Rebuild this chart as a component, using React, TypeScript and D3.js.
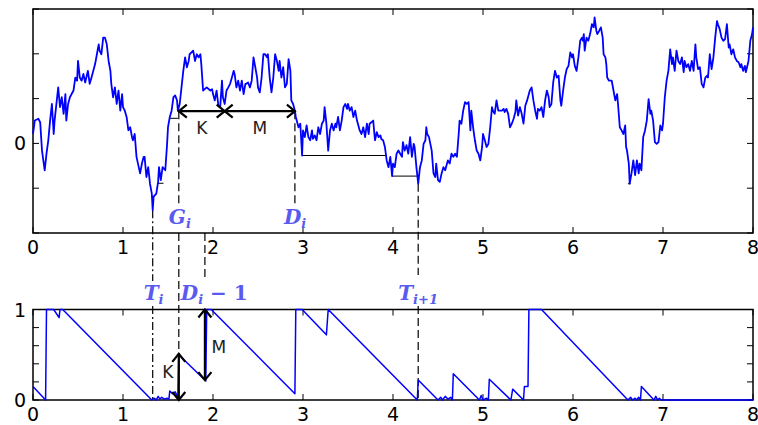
import React from 'react';
import * as d3 from 'd3';

// Brownian path: [time, value]
const walk: [number, number][] = [
  [0.00,0.21],[0.02,0.51],[0.06,0.55],[0.08,0.47],[0.10,-0.16],[0.13,-0.60],[0.15,-0.23],[0.17,0.07],[0.19,0.51],[0.21,0.88],
  [0.23,0.21],[0.24,0.51],[0.28,1.25],[0.30,0.81],[0.32,1.03],[0.34,0.66],[0.36,1.10],[0.37,0.51],[0.39,0.88],[0.41,1.03],
  [0.45,1.18],[0.47,1.47],[0.49,1.40],[0.50,1.84],[0.52,1.47],[0.54,1.40],[0.56,1.55],[0.58,1.36],[0.61,1.62],[0.63,1.33],
  [0.65,1.47],[0.69,1.77],[0.71,1.99],[0.73,2.21],[0.74,2.07],[0.76,1.99],[0.78,2.36],[0.80,2.36],[0.82,2.21],[0.84,1.84],
  [0.86,1.62],[0.87,1.33],[0.89,1.03],[0.91,1.25],[0.93,0.88],[0.95,1.18],[0.97,0.73],[0.99,1.10],[1.00,0.81],[1.02,0.73],
  [1.04,0.59],[1.06,0.29],[1.08,0.36],[1.10,0.14],[1.11,0.07],[1.13,0.21],[1.15,-0.30],[1.19,-0.67],[1.21,-0.45],[1.23,-0.30],
  [1.24,-0.30],[1.26,-0.75],[1.28,-0.53],[1.30,-0.90],[1.32,-1.12],[1.33,-1.49],[1.34,-1.19],[1.37,-1.12],[1.39,-0.86],[1.40,-0.53],
  [1.42,-0.82],[1.44,-0.53],[1.47,-0.60],[1.49,-0.01],[1.50,0.36],[1.52,0.59],[1.54,0.73],[1.56,1.03],[1.58,1.07],[1.60,0.96],
  [1.61,0.73],[1.63,0.88],[1.65,1.25],[1.67,1.62],[1.69,1.92],[1.71,1.70],[1.73,1.84],[1.74,1.99],[1.78,2.07],[1.80,1.84],
  [1.82,1.99],[1.84,1.92],[1.86,1.99],[1.87,1.77],[1.89,1.18],[1.93,1.25],
  [1.97,1.18],[1.99,1.21],[2.00,1.10],[2.02,0.96],[2.04,1.18],[2.06,0.84],[2.08,0.81],[2.10,1.40],[2.11,1.03],[2.13,0.88],
  [2.15,1.18],[2.17,1.25],[2.19,1.33],[2.21,1.47],[2.23,1.62],[2.24,1.55],[2.26,1.25],[2.28,1.40],[2.30,1.18],[2.32,1.40],
  [2.34,1.10],[2.36,1.33],[2.37,1.33],[2.39,1.36],[2.41,1.25],[2.43,1.40],[2.45,1.92],[2.47,1.70],[2.49,1.47],[2.50,1.25],
  [2.52,1.14],[2.54,1.47],[2.56,1.99],[2.58,1.99],[2.60,1.92],[2.61,1.99],[2.63,1.47],[2.65,1.14],[2.67,1.47],[2.69,1.99],
  [2.71,1.84],[2.73,1.62],[2.74,1.84],[2.76,1.47],[2.78,1.70],[2.80,1.25],[2.82,1.33],[2.84,1.88],[2.86,1.62],[2.87,0.96],
  [2.89,0.88],[2.91,0.73],[2.92,0.59],[2.95,0.36],[2.97,0.44],[2.99,-0.27],[3.00,0.29],[3.02,0.14],[3.04,0.40],[3.06,0.14],
  [3.08,0.07],[3.10,0.29],[3.11,0.10],[3.13,0.18],[3.15,0.07],[3.17,0.36],[3.19,0.21],[3.21,0.44],[3.23,0.51],[3.24,0.81],
  [3.26,0.44],[3.28,-0.16],[3.30,0.29],[3.32,0.44],[3.34,0.29],[3.36,0.44],[3.37,0.36],[3.39,0.59],[3.41,0.29],[3.43,0.51],
  [3.45,0.81],[3.47,0.88],[3.49,0.77],[3.50,0.88],[3.52,0.73],[3.54,0.81],[3.56,0.59],[3.58,0.73],[3.60,0.51],[3.61,0.44],
  [3.63,0.29],[3.65,0.21],[3.67,0.36],[3.69,0.14],[3.71,0.44],[3.73,0.21],[3.74,0.44],[3.76,0.47],[3.78,0.51],[3.80,0.07],
  [3.82,0.25],[3.84,0.14],[3.86,0.18],[3.87,0.10],[3.89,0.07],[3.91,-0.08],[3.93,-0.38],[3.95,-0.53],[3.97,-0.30],[3.99,-0.73],
  [4.00,-0.45],[4.02,-0.53],[4.04,-0.23],[4.06,-0.16],
  [4.08,-0.23],[4.10,-0.30],[4.11,0.03],[4.13,-0.16],[4.15,-0.04],[4.17,-0.23],[4.19,0.14],[4.21,-0.30],[4.23,-0.01],[4.24,-0.08],
  [4.26,-0.53],[4.28,-0.90],[4.30,-0.53],[4.32,-0.38],[4.34,-0.01],[4.36,0.07],[4.37,0.36],[4.38,0.21],[4.40,0.14],[4.43,-0.16],
  [4.45,-0.67],[4.47,-0.75],[4.48,-0.45],[4.50,-0.82],[4.52,-0.86],[4.54,-0.67],[4.56,-0.53],[4.58,-0.60],[4.60,-0.45],[4.61,-0.38],
  [4.63,-0.45],[4.65,-0.23],[4.67,-0.30],[4.69,-0.23],[4.71,-0.30],[4.73,0.21],[4.74,0.51],[4.76,0.44],[4.78,0.73],[4.80,0.92],
  [4.82,0.88],[4.84,0.92],[4.86,0.29],[4.87,0.73],[4.89,0.36],[4.91,0.07],[4.93,-0.16],[4.95,-0.23],[4.97,-0.38],[4.99,-0.08],
  [5.00,0.21],[5.02,0.07],[5.04,-0.08],[5.06,-0.01],[5.08,0.36],[5.10,0.81],[5.11,0.73],[5.13,0.66],[5.15,0.96],[5.17,0.73],
  [5.19,0.73],[5.21,0.73],[5.23,0.77],[5.24,0.70],[5.26,0.77],[5.28,0.66],[5.30,0.36],[5.32,0.44],[5.34,0.55],[5.36,0.70],
  [5.37,0.96],[5.39,0.62],[5.41,0.81],[5.43,0.66],[5.45,0.44],[5.47,0.84],[5.49,0.96],[5.50,1.03],[5.52,1.18],[5.54,1.25],
  [5.56,0.96],[5.58,0.73],[5.60,0.55],[5.61,0.77],[5.63,0.73],[5.65,0.81],[5.67,0.59],[5.69,0.96],[5.71,1.18],[5.73,1.03],
  [5.74,0.81],[5.76,0.88],[5.78,1.36],[5.80,1.62],[5.82,1.47],[5.84,1.51],[5.86,0.96],[5.87,0.84],[5.89,1.18],[5.91,1.47],
  [5.93,1.66],[5.95,1.73],[5.97,2.03],[5.99,1.92],[6.00,1.99],[6.02,1.73],[6.04,1.62],[6.06,1.92],[6.08,2.29],
  [6.10,2.36],[6.11,2.29],[6.12,2.44],[6.13,2.07],[6.15,2.36],[6.17,2.29],[6.19,2.44],[6.21,2.66],[6.23,2.59],[6.24,2.81],
  [6.26,2.51],[6.27,2.44],[6.29,2.51],[6.31,2.59],[6.33,2.36],[6.34,1.99],[6.36,1.92],[6.37,1.77],[6.38,1.47],[6.40,1.40],
  [6.43,1.40],[6.45,1.18],[6.47,0.96],[6.49,1.10],[6.50,0.88],[6.52,0.36],[6.54,0.29],[6.56,0.21],[6.58,0.40],[6.59,-0.08],
  [6.60,-0.16],[6.62,-0.45],[6.63,-0.90],[6.65,-0.67],[6.67,-0.38],[6.69,-0.71],[6.71,-0.38],[6.73,-0.67],[6.74,-0.45],[6.76,-0.60],
  [6.78,0.14],[6.80,0.29],[6.82,0.51],[6.84,0.99],[6.86,0.66],[6.87,0.73],[6.89,0.51],[6.91,0.03],[6.93,-0.01],[6.95,0.03],
  [6.97,0.40],[6.99,0.29],[7.00,0.44],[7.02,1.03],[7.04,1.40],[7.06,1.62],[7.08,2.10],[7.10,1.77],[7.11,1.92],[7.13,1.62],
  [7.15,2.07],[7.17,1.84],[7.19,1.77],[7.21,1.92],[7.23,1.59],[7.24,1.84],[7.26,1.70],[7.28,1.77],[7.30,1.62],[7.32,1.84],
  [7.34,1.62],[7.36,2.21],[7.37,1.92],[7.39,1.66],[7.41,1.70],[7.43,1.33],[7.45,1.25],[7.47,1.47],[7.49,1.51],[7.50,1.47],
  [7.52,1.99],[7.54,1.66],[7.56,1.92],[7.58,2.36],[7.60,2.73],[7.61,2.66],[7.63,2.55],[7.65,2.36],[7.67,2.29],[7.69,2.33],
  [7.71,2.66],[7.73,2.14],[7.74,2.21],[7.76,1.99],[7.78,2.10],[7.80,1.92],[7.82,1.84],[7.84,1.81],[7.86,1.70],[7.87,1.77],
  [7.89,1.62],[7.91,1.73],[7.92,1.59],[7.95,1.84],[7.97,2.29],[7.99,2.44],[8.00,2.59],
];

// sawtooth process in the lower panel: [time, value]
const residual: [number, number][] = [
  [0.00,0.15],[0.14,0.00],[0.15,1.00],[0.23,1.00],[0.29,0.91],[0.30,1.00],[0.33,1.00],[1.32,0.00],[1.35,0.02],[1.37,0.00],
  [1.39,0.04],[1.41,0.01],[1.43,0.03],[1.46,0.01],[1.49,0.02],[1.51,0.01],[1.52,0.10],[1.55,0.07],[1.58,0.09],[1.61,0.03],
  [1.62,0.50],[1.92,0.21],[1.93,1.00],[1.98,1.00],[2.91,0.07],[2.92,1.00],[2.99,1.00],[3.26,0.72],[3.28,1.00],[4.27,0.00],
  [4.28,0.22],[4.50,0.00],[4.53,0.03],[4.55,0.00],[4.58,0.04],[4.61,0.01],[4.64,0.03],[4.66,0.00],[4.67,0.29],[4.96,0.00],
  [4.98,0.05],[5.00,0.00],[5.04,0.02],[5.06,0.00],[5.07,0.23],[5.31,0.00],[5.33,0.12],[5.45,0.00],[5.46,0.15],[5.50,0.15],
  [5.51,1.00],[5.65,1.00],[6.61,0.00],[6.64,0.03],[6.66,0.00],[6.69,0.02],[6.71,0.00],[6.73,0.03],[6.75,0.00],[6.76,0.15],
  [6.90,0.00],[6.92,0.04],[6.94,0.00],[6.96,0.02],[6.98,0.00],[8.00,0.00],
];

// thin black level segments: [level, from, to]
const records: [number, number, number][] = [
  [-0.89, 1.38, 1.45], [0.56, 1.52, 1.61], [-0.27, 2.99, 3.92], [-0.73, 3.99, 4.28], [-0.90, 6.61, 6.64],
];

const xTicks = [0, 1, 2, 3, 4, 5, 6, 7, 8];
const topYTicks = [-2, -1, 0, 1, 2, 3];
const topYLabels = ['', '', '0', '', '', ''];
const botYTicks = [0, 0.2, 0.4, 0.6, 0.8, 1];
const botYLabels = ['0', '', '', '', '', '1'];

const T_I = 1.33;
const T_I_LOW = -1.49;
const G_I = 1.62;
const K_END = 2.13;
const D_I = 2.91;
const T_NEXT = 4.28;
const T_NEXT_LOW = -0.9;
const LEVEL = 0.72;
const K_BOT = 0.51;
const M_BOT = 0.22;

const W = 758, H = 425;
const L = 33, R = 753;
const TOP_T = 9, TOP_B = 233;
const BOT_T = 309.5, BOT_B = 400;
const ROW1 = [206, 231];
const ROW2 = [281, 306];
const TICK = 6;
const LABEL_BLUE = '#5a5af0';

const x = d3.scaleLinear().domain([0, 8]).range([L, R]);
const yTop = d3.scaleLinear().domain([-2, 3]).range([TOP_B, TOP_T]);
const yBot = d3.scaleLinear().domain([0, 1]).range([BOT_B, BOT_T]);

const chevron = (px: number, py: number, dir: 'l' | 'r' | 'u' | 'd') => {
  const a = 8, b = 6.5;
  if (dir === 'l') return `M${px + a},${py - b}L${px},${py}L${px + a},${py + b}`;
  if (dir === 'r') return `M${px - a},${py - b}L${px},${py}L${px - a},${py + b}`;
  if (dir === 'u') return `M${px - b},${py + a}L${px},${py}L${px + b},${py + a}`;
  return `M${px - b},${py - a}L${px},${py}L${px + b},${py - a}`;
};

const Panel = ({ y, ticks, labels, top, bottom }: any) => (
  <g>
    {xTicks.map((t) => (
      <g key={'x' + t}>
        <line x1={x(t)} x2={x(t)} y1={bottom} y2={bottom - TICK} stroke="#000" />
        <line x1={x(t)} x2={x(t)} y1={top} y2={top + TICK} stroke="#000" />
        <text x={x(t)} y={bottom + 21} textAnchor="middle" fontSize={19} fontFamily="DejaVu Sans">{t}</text>
      </g>
    ))}
    {ticks.map((v: number, i: number) => (
      <g key={'y' + v}>
        <line x1={L} x2={L + TICK} y1={y(v)} y2={y(v)} stroke="#000" />
        <line x1={R} x2={R - TICK} y1={y(v)} y2={y(v)} stroke="#000" />
        {labels[i] && (
          <text x={L - 7} y={y(v) + 7} textAnchor="end" fontSize={19} fontFamily="DejaVu Sans">{labels[i]}</text>
        )}
      </g>
    ))}
    <rect x={L} y={top} width={R - L} height={bottom - top} fill="none" stroke="#000" strokeWidth={1.5} />
  </g>
);

const MathLabel = ({ px, py, main, sub, tail }: any) => (
  <text x={px} y={py} fontFamily="DejaVu Serif" fontSize={20} fontWeight="bold" fill={LABEL_BLUE}>
    <tspan fontStyle="italic">{main}</tspan>
    <tspan fontStyle="italic" fontSize={13} dy={4}>{sub}</tspan>
    {tail && <tspan dy={-4}>{tail}</tspan>}
  </text>
);

export default function App() {
  const walkLine = d3.line<[number, number]>().x((d) => x(d[0])).y((d) => yTop(d[1]));
  const resLine = d3.line<[number, number]>().x((d) => x(d[0])).y((d) => yBot(d[1]));
  const dash = '8,4';
  const dashDot = '8,3,2,3';

  return (
    <svg width={W} height={H} style={{ position: 'absolute', left: 0, top: 0, background: '#fff' }}>
      <rect width={W} height={H} fill="#fff" />

      {/* dashed guides */}
      <g stroke="#000" strokeWidth={1.2} fill="none">
        <line x1={x(T_I)} x2={x(T_I)} y1={yTop(T_I_LOW)} y2={ROW2[0]} strokeDasharray={dashDot} />
        <line x1={x(T_I)} x2={x(T_I)} y1={ROW2[1]} y2={yBot(0)} strokeDasharray={dashDot} />
        <line x1={x(G_I)} x2={x(G_I)} y1={yTop(LEVEL)} y2={ROW1[0]} strokeDasharray={dash} />
        <line x1={x(G_I)} x2={x(G_I)} y1={TOP_B} y2={yBot(0)} strokeDasharray={dash} />
        <line x1={x(D_I)} x2={x(D_I)} y1={yTop(LEVEL)} y2={ROW1[0]} strokeDasharray={dash} />
        <line x1={x(D_I - 1)} x2={x(D_I - 1)} y1={TOP_B} y2={ROW2[0]} strokeDasharray={dash} />
        <line x1={x(T_NEXT)} x2={x(T_NEXT)} y1={yTop(T_NEXT_LOW)} y2={ROW2[0] - 6} strokeDasharray={dash} />
        <line x1={x(T_NEXT)} x2={x(T_NEXT)} y1={ROW2[1]} y2={yBot(0)} strokeDasharray={dash} />
      </g>

      <Panel y={yTop} ticks={topYTicks} labels={topYLabels} top={TOP_T} bottom={TOP_B} />
      <Panel y={yBot} ticks={botYTicks} labels={botYLabels} top={BOT_T} bottom={BOT_B} />

      {/* level segments */}
      {records.map(([lv, a, b], i) => (
        <line key={i} x1={x(a)} x2={x(b)} y1={yTop(lv)} y2={yTop(lv)} stroke="#000" strokeWidth={1} />
      ))}

      <path d={walkLine(walk) || ''} fill="none" stroke="#0000ff" strokeWidth={1.8} strokeLinejoin="round" />
      <path d={resLine(residual) || ''} fill="none" stroke="#0000ff" strokeWidth={1.5} strokeLinejoin="round" />

      {/* K / M arrows, top panel */}
      <g stroke="#000" strokeWidth={2.2} fill="none">
        <line x1={x(G_I)} x2={x(D_I)} y1={yTop(LEVEL)} y2={yTop(LEVEL)} />
        <path d={chevron(x(G_I), yTop(LEVEL), 'l')} />
        <path d={chevron(x(K_END), yTop(LEVEL), 'r')} />
        <path d={chevron(x(K_END), yTop(LEVEL), 'l')} />
        <path d={chevron(x(D_I), yTop(LEVEL), 'r')} />
      </g>
      <text x={x((G_I + K_END) / 2)} y={yTop(LEVEL) + 23} textAnchor="middle" fontSize={17} fontFamily="DejaVu Sans" fill="#222">K</text>
      <text x={x((K_END + D_I) / 2)} y={yTop(LEVEL) + 23} textAnchor="middle" fontSize={17} fontFamily="DejaVu Sans" fill="#222">M</text>

      {/* K / M arrows, bottom panel */}
      <g stroke="#000" strokeWidth={2.2} fill="none">
        <line x1={x(G_I)} x2={x(G_I)} y1={yBot(0)} y2={yBot(K_BOT)} />
        <path d={chevron(x(G_I), yBot(K_BOT), 'u')} />
        <path d={chevron(x(G_I), yBot(0), 'd')} />
        <line x1={x(D_I - 1)} x2={x(D_I - 1)} y1={yBot(1)} y2={yBot(M_BOT)} />
        <path d={chevron(x(D_I - 1), yBot(1), 'u')} />
        <path d={chevron(x(D_I - 1), yBot(M_BOT), 'd')} />
      </g>
      <text x={x(G_I) - 11} y={yBot(0.24)} textAnchor="middle" fontSize={17} fontFamily="DejaVu Sans" fill="#222">K</text>
      <text x={x(D_I - 1) + 14} y={yBot(0.52)} textAnchor="middle" fontSize={17} fontFamily="DejaVu Sans" fill="#222">M</text>

      {/* math labels */}
      <MathLabel px={x(G_I) - 10} py={224} main="G" sub="i" />
      <MathLabel px={x(D_I) - 11} py={224} main="D" sub="i" />
      <MathLabel px={x(T_I) - 9} py={300} main="T" sub="i" />
      <MathLabel px={x(G_I) + 2} py={300} main="D" sub="i" tail=" − 1" />
      <MathLabel px={x(T_NEXT) - 20} py={300} main="T" sub="i+1" />
    </svg>
  );
}
